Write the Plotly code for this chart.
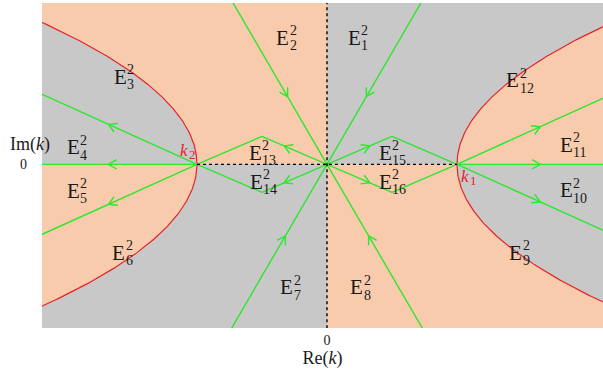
import numpy as np
import plotly.graph_objects as go

# Branch points on the real axis: k2 (left) and k1 (right)
BRANCH_POINTS = [-1.0, 1.0]
BRANCH_NAMES = ["2", "1"]

# Steepest-descent rays leaving the origin (degrees) and the direction of flow on them
STEEP_RAY_ANGLES = [59.8, 120.2, -59.8, -120.2]
STEEP_ARROW_HEIGHT = [0.52, 0.52, -0.55, -0.55]

# Small rhombi joining the origin to each branch point
RHOMBUS_APEX = 0.215
RHOMBUS_ARROW_FRACTION = 0.66

# Rays leaving each branch point outward (slopes)
OUTER_RAY_SLOPES = [0.452, 0.0, -0.452]
OUTER_ARROW_X = [-1.68, 1.64]

# Region labels E_n^2
REGION_SUBSCRIPTS = ["1", "2", "3", "4", "5", "6", "7", "8",
                     "9", "10", "11", "12", "13", "14", "15", "16"]
REGION_X = [0.21, -0.34, -1.59, -1.95, -1.95, -1.60, -0.31, 0.23,
            1.45, 1.84, 1.84, 1.43, -0.55, -0.545, 0.45, 0.45]
REGION_Y = [0.975, 0.975, 0.675, 0.13, -0.205, -0.68, -0.945, -0.945,
            -0.68, -0.20, 0.15, 0.645, 0.09, -0.135, 0.09, -0.135]

GRAY = "#c8c8c8"
PEACH = "#f8cbad"
GREEN = "#2ee62e"
RED = "#e3242b"
FONT = "Liberation Serif"

X_RANGE = [-2.192, 2.123]
Y_RANGE = [-1.259, 1.241]


def boundary(y):
    # curve separating the sign regions: Re(k) = 1 + Im(k)^2
    return 1.0 + y ** 2


fig = go.Figure()

# ---- shaded regions (plot background is gray, peach patches on top) ----
ys_up = np.linspace(0, 1.8, 200)
ys_dn = -ys_up
far = 5.0
patches = [
    # inside the left curve, upper half
    (np.concatenate([[0.0], -boundary(ys_up), [0.0]]),
     np.concatenate([[0.0], ys_up, [ys_up[-1]]])),
    # inside the right curve, lower half
    (np.concatenate([[0.0], boundary(ys_dn), [0.0]]),
     np.concatenate([[0.0], ys_dn, [ys_dn[-1]]])),
    # outside the right curve, upper half
    (np.concatenate([boundary(ys_up), [far, far]]),
     np.concatenate([ys_up, [ys_up[-1], 0.0]])),
    # outside the left curve, lower half
    (np.concatenate([-boundary(ys_dn), [-far, -far]]),
     np.concatenate([ys_dn, [ys_dn[-1], 0.0]])),
]
for px, py in patches:
    fig.add_trace(go.Scatter(x=px, y=py, mode="lines", fill="toself",
                             fillcolor=PEACH, line=dict(width=0),
                             hoverinfo="skip", showlegend=False))

# ---- red boundary curves ----
ys = np.linspace(-1.8, 1.8, 400)
for sgn in (-1, 1):
    fig.add_trace(go.Scatter(x=sgn * boundary(ys), y=ys, mode="lines",
                             line=dict(color=RED, width=1.2),
                             hoverinfo="skip", showlegend=False))

# ---- green contours ----
gx, gy = [], []


def seg(p, q):
    gx.extend([p[0], q[0], None])
    gy.extend([p[1], q[1], None])


for ang in STEEP_RAY_ANGLES:
    t = np.radians(ang)
    seg((0.0, 0.0), (3.0 * np.cos(t), 3.0 * np.sin(t)))

for kb in BRANCH_POINTS:
    mid = kb / 2.0
    for h in (RHOMBUS_APEX, -RHOMBUS_APEX):
        seg((0.0, 0.0), (mid, h))
        seg((mid, h), (kb, 0.0))
    out = np.sign(kb)
    for s in OUTER_RAY_SLOPES:
        seg((kb, 0.0), (kb + out * 3.0, s * 3.0))

fig.add_trace(go.Scatter(x=gx, y=gy, mode="lines",
                         line=dict(color=GREEN, width=1.4),
                         hoverinfo="skip", showlegend=False))

# ---- open chevron arrowheads ----
ax, ay = [], []


def chevron(tip, direction, length=0.072, half=30.0):
    d = np.array(direction, float)
    d /= np.hypot(*d)
    for s in (1, -1):
        a = np.radians(180 + s * half)
        r = np.array([d[0] * np.cos(a) - d[1] * np.sin(a),
                      d[0] * np.sin(a) + d[1] * np.cos(a)])
        ax.extend([tip[0] + length * r[0], tip[0], None])
        ay.extend([tip[1] + length * r[1], tip[1], None])


# flow toward the origin on the steep rays
for ang, hy in zip(STEEP_RAY_ANGLES, STEEP_ARROW_HEIGHT):
    t = np.radians(ang)
    tip = (hy / np.tan(t), hy)
    chevron(tip, (-np.cos(t), -np.sin(t)))

# flow away from the origin on the rhombus edges
for kb in BRANCH_POINTS:
    mid = kb / 2.0
    for h in (RHOMBUS_APEX, -RHOMBUS_APEX):
        f = RHOMBUS_ARROW_FRACTION
        chevron((mid * f, h * f), (mid, h))

# flow outward from the branch points
for kb, xa in zip(BRANCH_POINTS, OUTER_ARROW_X):
    out = np.sign(kb)
    for s in OUTER_RAY_SLOPES:
        tip = (xa, s * (xa - kb) * out)
        chevron(tip, (out, s))

fig.add_trace(go.Scatter(x=ax, y=ay, mode="lines",
                         line=dict(color=GREEN, width=1.4),
                         hoverinfo="skip", showlegend=False))

# ---- dashed real / imaginary axes ----
fig.add_trace(go.Scatter(x=[0, 0], y=[-2, 2], mode="lines",
                         line=dict(color="black", width=1.4, dash="3px,3px"),
                         hoverinfo="skip", showlegend=False))
fig.add_trace(go.Scatter(x=[BRANCH_POINTS[0], BRANCH_POINTS[1]], y=[0, 0],
                         mode="lines",
                         line=dict(color="black", width=1.4, dash="3px,3px"),
                         hoverinfo="skip", showlegend=False))

# ---- labels ----
annotations = []
txt = "#1a1a1a"
for sub, x, y in zip(REGION_SUBSCRIPTS, REGION_X, REGION_Y):
    annotations.append(dict(x=x, y=y, text="E", showarrow=False,
                            xanchor="center", yanchor="middle",
                            font=dict(family=FONT, size=21, color=txt)))
    annotations.append(dict(x=x, y=y, text="2", showarrow=False,
                            xanchor="left", yanchor="middle",
                            xshift=5, yshift=7,
                            font=dict(family=FONT, size=14, color=txt)))
    annotations.append(dict(x=x, y=y, text=sub, showarrow=False,
                            xanchor="left", yanchor="middle",
                            xshift=5, yshift=-8,
                            font=dict(family=FONT, size=14, color=txt)))

# branch point names
for kb, name, dx, dy in zip(BRANCH_POINTS, BRANCH_NAMES, [-0.10, 0.06], [0.11, -0.095]):
    annotations.append(dict(x=kb + dx, y=dy, text="<i>k</i>", showarrow=False,
                            xanchor="center", yanchor="middle",
                            font=dict(family=FONT, size=17, color=RED)))
    annotations.append(dict(x=kb + dx, y=dy, text=name, showarrow=False,
                            xanchor="left", yanchor="middle",
                            xshift=3, yshift=-4,
                            font=dict(family=FONT, size=13, color=RED)))

annotations.append(dict(xref="paper", x=0, y=0.15, text="Im(<i>k</i>)",
                        showarrow=False, xanchor="center", yanchor="middle",
                        xshift=-12,
                        font=dict(family=FONT, size=18, color=txt)))

fig.update_layout(
    width=603, height=372,
    margin=dict(l=42, r=0, t=3, b=44),
    plot_bgcolor=GRAY, paper_bgcolor="white",
    showlegend=False,
    annotations=annotations,
    xaxis=dict(range=X_RANGE, showgrid=False, zeroline=False, showline=False,
               tickvals=[0], ticktext=["0"], ticks="",
               ticklabelstandoff=2,
               tickfont=dict(family=FONT, size=14, color=txt),
               title=dict(text="Re(<i>k</i>)", standoff=2,
                          font=dict(family=FONT, size=18, color=txt))),
    yaxis=dict(range=Y_RANGE, showgrid=False, zeroline=False, showline=False,
               tickvals=[0], ticktext=["0"], ticks="",
               ticklabelstandoff=14,
               tickfont=dict(family=FONT, size=14, color=txt)),
)

fig.write_html("out.html")
